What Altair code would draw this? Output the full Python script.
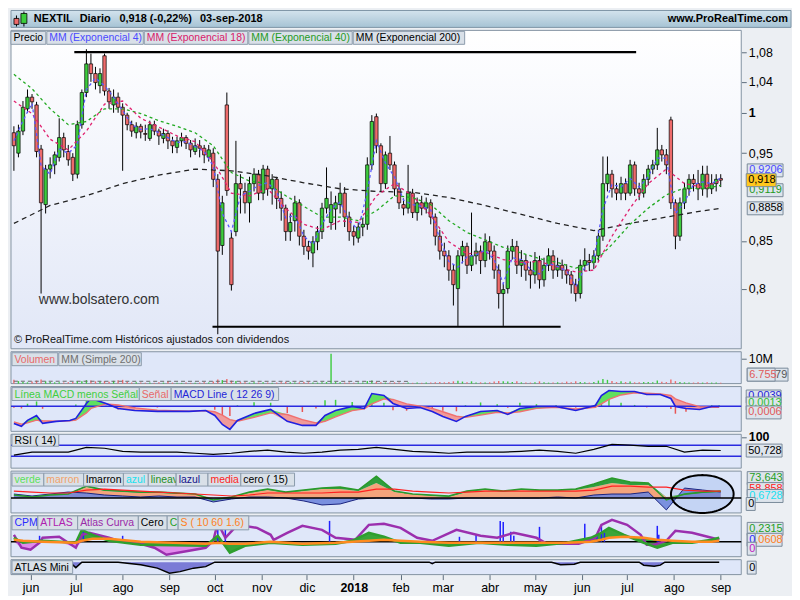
import math
import numpy as np
import pandas as pd
import altair as alt

# ---------------- data ----------------
START = "2017-05-21"   # first candle; one candle every 3 calendar days (day = 3*i)

open_ = [0.975, 0.950, 0.977, 1.005, 1.020, 1.010, 0.955, 0.890, 0.931, 0.936,
         0.945, 0.969, 0.952, 0.945, 0.925, 0.985, 1.026, 1.064, 1.051, 1.035,
         1.075, 1.028, 1.010, 1.020, 1.007, 0.997, 0.985, 0.975, 0.983, 0.974,
         0.968, 0.985, 0.977, 0.968, 0.974, 0.965, 0.957, 0.965, 0.969, 0.962,
         0.952, 0.959, 0.956, 0.945, 0.950, 0.919, 0.845, 1.010, 0.853, 0.860,
         0.914, 0.905, 0.892, 0.914, 0.925, 0.903, 0.931, 0.908, 0.919, 0.897,
         0.886, 0.860, 0.872, 0.892, 0.855, 0.844, 0.837, 0.849, 0.860, 0.886,
         0.870, 0.885, 0.890, 0.903, 0.876, 0.860, 0.853, 0.865, 0.868, 0.936,
         0.995, 0.959, 0.914, 0.950, 0.936, 0.908, 0.890, 0.886, 0.903, 0.881,
         0.892, 0.886, 0.892, 0.876, 0.855, 0.839, 0.834, 0.819, 0.800, 0.834,
         0.844, 0.824, 0.834, 0.839, 0.829, 0.849, 0.839, 0.819, 0.795, 0.800,
         0.839, 0.844, 0.824, 0.829, 0.819, 0.814, 0.829, 0.809, 0.824, 0.834,
         0.819, 0.824, 0.819, 0.814, 0.804, 0.795, 0.824, 0.829, 0.827, 0.834,
         0.855, 0.914, 0.925, 0.908, 0.903, 0.914, 0.903, 0.936, 0.908, 0.903,
         0.919, 0.931, 0.936, 0.954, 0.948, 0.991, 0.892, 0.855, 0.892, 0.908,
         0.919, 0.914, 0.908, 0.925, 0.908, 0.914, 0.920]
close = [0.959, 0.977, 1.007, 1.020, 1.014, 0.952, 0.892, 0.931, 0.936, 0.948,
         0.969, 0.954, 0.942, 0.925, 0.985, 1.026, 1.064, 1.051, 1.039, 1.051,
         1.028, 1.014, 1.020, 1.007, 0.997, 0.985, 0.977, 0.983, 0.976, 0.973,
         0.985, 0.977, 0.971, 0.974, 0.965, 0.959, 0.965, 0.969, 0.962, 0.954,
         0.959, 0.956, 0.948, 0.954, 0.919, 0.839, 0.892, 0.906, 0.804, 0.914,
         0.908, 0.892, 0.914, 0.925, 0.903, 0.931, 0.908, 0.919, 0.897, 0.886,
         0.860, 0.870, 0.892, 0.855, 0.844, 0.839, 0.849, 0.860, 0.886, 0.897,
         0.890, 0.892, 0.903, 0.876, 0.860, 0.855, 0.865, 0.868, 0.936, 0.989,
         0.959, 0.914, 0.948, 0.936, 0.908, 0.892, 0.886, 0.903, 0.881, 0.892,
         0.886, 0.892, 0.876, 0.855, 0.839, 0.834, 0.819, 0.804, 0.834, 0.844,
         0.824, 0.834, 0.839, 0.829, 0.849, 0.839, 0.819, 0.795, 0.799, 0.839,
         0.844, 0.824, 0.829, 0.819, 0.814, 0.829, 0.809, 0.824, 0.834, 0.819,
         0.824, 0.819, 0.814, 0.804, 0.795, 0.824, 0.829, 0.827, 0.834, 0.855,
         0.914, 0.925, 0.908, 0.903, 0.914, 0.903, 0.936, 0.908, 0.903, 0.919,
         0.931, 0.936, 0.954, 0.948, 0.936, 0.892, 0.855, 0.892, 0.908, 0.919,
         0.914, 0.908, 0.925, 0.908, 0.914, 0.919, 0.918]
high = [0.983, 0.985, 1.015, 1.030, 1.024, 1.014, 0.960, 0.936, 0.945, 0.952,
        0.993, 0.975, 0.960, 0.950, 0.990, 1.030, 1.084, 1.078, 1.060, 1.058,
        1.078, 1.032, 1.030, 1.026, 1.012, 1.000, 0.990, 0.988, 0.986, 0.985,
        0.990, 0.990, 0.980, 0.980, 0.978, 0.970, 0.970, 0.975, 0.972, 0.966,
        0.968, 0.966, 0.960, 0.960, 0.956, 0.925, 0.900, 1.026, 0.860, 0.965,
        0.925, 0.915, 0.922, 0.932, 0.930, 0.936, 0.935, 0.925, 0.922, 0.905,
        0.890, 0.880, 0.900, 0.896, 0.862, 0.850, 0.855, 0.866, 0.892, 0.933,
        0.905, 0.900, 0.915, 0.910, 0.882, 0.866, 0.870, 0.875, 0.945, 0.997,
        0.999, 0.962, 0.952, 0.971, 0.940, 0.915, 0.897, 0.936, 0.908, 0.898,
        0.900, 0.898, 0.896, 0.880, 0.862, 0.848, 0.840, 0.825, 0.840, 0.850,
        0.848, 0.881, 0.848, 0.845, 0.858, 0.855, 0.845, 0.825, 0.805, 0.845,
        0.852, 0.850, 0.840, 0.835, 0.828, 0.838, 0.834, 0.832, 0.842, 0.840,
        0.832, 0.830, 0.825, 0.818, 0.810, 0.830, 0.842, 0.836, 0.840, 0.862,
        0.946, 0.946, 0.930, 0.915, 0.922, 0.920, 0.942, 0.940, 0.915, 0.925,
        0.936, 0.942, 0.981, 0.960, 0.955, 0.995, 0.896, 0.898, 0.915, 0.925,
        0.925, 0.930, 0.935, 0.935, 0.925, 0.925, 0.925]
low = [0.929, 0.945, 0.972, 1.000, 1.005, 0.945, 0.795, 0.880, 0.920, 0.925,
       0.940, 0.945, 0.935, 0.917, 0.920, 0.980, 1.020, 1.040, 1.030, 1.025,
       1.022, 1.005, 1.000, 1.000, 0.929, 0.978, 0.970, 0.968, 0.968, 0.965,
       0.965, 0.972, 0.960, 0.962, 0.955, 0.950, 0.950, 0.958, 0.955, 0.945,
       0.948, 0.945, 0.938, 0.940, 0.910, 0.755, 0.835, 0.900, 0.798, 0.855,
       0.880, 0.880, 0.870, 0.905, 0.895, 0.895, 0.900, 0.890, 0.885, 0.872,
       0.850, 0.850, 0.860, 0.845, 0.835, 0.830, 0.822, 0.840, 0.852, 0.880,
       0.862, 0.862, 0.880, 0.865, 0.850, 0.845, 0.848, 0.855, 0.862, 0.930,
       0.950, 0.905, 0.908, 0.930, 0.900, 0.885, 0.878, 0.880, 0.875, 0.872,
       0.878, 0.880, 0.868, 0.845, 0.830, 0.822, 0.808, 0.783, 0.763, 0.826,
       0.815, 0.818, 0.825, 0.815, 0.822, 0.830, 0.810, 0.780, 0.763, 0.795,
       0.830, 0.815, 0.812, 0.808, 0.800, 0.805, 0.800, 0.802, 0.818, 0.810,
       0.812, 0.810, 0.805, 0.795, 0.787, 0.790, 0.818, 0.818, 0.820, 0.828,
       0.850, 0.905, 0.898, 0.895, 0.895, 0.895, 0.900, 0.900, 0.895, 0.898,
       0.912, 0.925, 0.930, 0.940, 0.925, 0.885, 0.841, 0.850, 0.885, 0.900,
       0.905, 0.895, 0.900, 0.898, 0.902, 0.905, 0.910]
volume_m = [1.5, 1.0, 0.6, 0.5, 0.8, 1.2, 1.6, 0.9, 0.6, 0.5,
            0.5, 0.4, 0.5, 0.6, 1.0, 0.9, 1.4, 1.2, 0.9, 0.8,
            1.0, 0.7, 1.1, 1.3, 1.5, 0.6, 0.4, 0.5, 0.4, 0.3,
            0.4, 0.3, 0.5, 0.4, 1.0, 0.4, 0.3, 0.3, 0.4, 0.3,
            0.3, 0.4, 0.5, 0.4, 0.8, 1.6, 1.4, 1.8, 1.2, 1.0,
            0.6, 0.5, 0.4, 0.5, 0.4, 0.5, 0.4, 0.3, 0.4, 0.5,
            0.6, 0.5, 0.4, 0.5, 0.6, 0.5, 0.4, 0.4, 0.5, 0.6,
            12.0, 0.6, 0.5, 0.4, 0.4, 0.3, 0.4, 0.4, 1.0, 1.2,
            0.6, 0.5, 0.4, 0.4, 0.5, 0.4, 0.3, 0.4, 0.3, 0.4,
            0.3, 0.4, 0.4, 0.5, 0.6, 0.5, 0.6, 0.9, 1.1, 0.8,
            0.5, 0.9, 0.4, 0.5, 0.4, 0.5, 0.8, 1.0, 0.9, 0.8,
            0.6, 0.9, 0.5, 0.4, 0.4, 0.5, 0.9, 0.5, 0.4, 0.4,
            0.5, 0.4, 0.8, 0.5, 0.9, 0.6, 0.5, 0.4, 0.6, 1.2,
            1.8, 1.5, 1.0, 0.6, 0.9, 0.6, 0.8, 0.5, 0.5, 0.6,
            0.6, 0.5, 1.2, 0.7, 0.6, 1.6, 1.0, 0.6, 0.5, 0.4,
            0.4, 0.5, 0.4, 0.5, 0.4, 0.4, 0.3]
vol_mm_days = [0, 90, 180, 262]
vol_mm = [0.95, 0.92, 0.92, 0.90]

# moving averages
ema4 = [0.965, 0.990, 1.012, 0.935, 0.925, 0.955, 0.950, 0.960, 1.030, 1.045,
        1.035, 1.020, 1.003, 0.985, 0.979, 0.980, 0.975, 0.969, 0.963, 0.964,
        0.958, 0.952, 0.935, 0.880, 0.860, 0.900, 0.905, 0.912, 0.915, 0.905,
        0.875, 0.878, 0.855, 0.846, 0.868, 0.885, 0.893, 0.872, 0.862, 0.905,
        0.965, 0.938, 0.922, 0.895, 0.890, 0.888, 0.884, 0.852, 0.828, 0.822,
        0.833, 0.835, 0.840, 0.830, 0.805, 0.832, 0.830, 0.820, 0.815, 0.826,
        0.823, 0.818, 0.802, 0.822, 0.831, 0.885, 0.913, 0.910, 0.920, 0.910,
        0.922, 0.944, 0.944, 0.880, 0.893, 0.913, 0.916, 0.914, 0.9206]   # every 6 days
ema18 = [1.015, 0.999, 0.967, 0.954, 0.977, 1.011, 1.015, 0.993, 0.982, 0.971,
         0.964, 0.940, 0.903, 0.900, 0.908, 0.886, 0.868, 0.862, 0.872, 0.870,
         0.900, 0.914, 0.900, 0.878, 0.849, 0.836, 0.838, 0.830, 0.827, 0.828,
         0.822, 0.817, 0.819, 0.855, 0.886, 0.914, 0.931, 0.914, 0.910, 0.917]  # every 12 days
ema40 = [1.050, 1.031, 1.005, 0.985, 0.989, 1.005, 1.005, 0.999, 0.990, 0.983,
         0.975, 0.959, 0.927, 0.917, 0.914, 0.900, 0.888, 0.876, 0.876, 0.872,
         0.883, 0.900, 0.898, 0.890, 0.872, 0.859, 0.851, 0.843, 0.837, 0.831,
         0.827, 0.821, 0.827, 0.846, 0.868, 0.886, 0.901, 0.909, 0.908, 0.9119]
ema200_days = [0, 24, 48, 72, 96, 120, 144, 168, 192, 216, 240, 264, 288, 312, 336,
               360, 384, 408, 432, 456, 468]
ema200 = [0.869, 0.889, 0.900, 0.914, 0.924, 0.931, 0.929, 0.923, 0.915, 0.908,
          0.905, 0.904, 0.898, 0.889, 0.879, 0.869, 0.861, 0.869, 0.876, 0.883, 0.8858]
support_from = [40, 131.5]
support_to = [412, 362]
support_level = [1.08, 0.7622]

# MACD
macd_days = [0, 5, 9, 15, 19, 28, 37, 41, 48, 51, 61, 69, 80, 95, 116, 127, 133, 138, 143, 148,
             159, 170, 181, 191, 200, 206, 213, 224, 232, 237, 245, 251, 260, 269, 277, 284, 293,
             299, 309, 320, 327, 335, 346, 359, 372, 385, 389, 394, 402, 411, 419, 428, 435, 438,
             445, 454, 462, 467]
macd = [-0.0308, -0.0361, -0.0255, -0.0166, -0.0308, -0.0272, -0.0255, -0.0219, 0.0048, 0.0137,
        0.0048, -0.0041, -0.0077, -0.0094, -0.0094, -0.0077, -0.0166, -0.0326, -0.0415, -0.0255,
        -0.0130, -0.0059, -0.0272, -0.0344, -0.0344, -0.0166, -0.0077, -0.0005, -0.0041, 0.0226,
        0.0190, 0.0048, -0.0041, -0.0023, -0.0094, -0.0183, -0.0272, -0.0183, -0.0094, -0.0077,
        -0.0148, -0.0041, -0.0005, -0.0005, -0.0077, 0.0012, 0.0190, 0.0279, 0.0262, 0.0262,
        0.0208, 0.0208, 0.0137, -0.0005, -0.0041, -0.0059, -0.0005, -0.0005]
signal = [-0.028, -0.032, -0.030, -0.025, -0.026, -0.027, -0.026, -0.025, -0.012, -0.004,
          0.004, 0.002, -0.003, -0.007, -0.009, -0.008, -0.010, -0.016, -0.024, -0.027,
          -0.020, -0.012, -0.015, -0.024, -0.030, -0.027, -0.019, -0.008, -0.005, 0.004,
          0.013, 0.012, 0.004, 0.000, -0.004, -0.010, -0.018, -0.020, -0.016, -0.011,
          -0.012, -0.010, -0.004, -0.002, -0.005, -0.002, 0.004, 0.012, 0.020, 0.024,
          0.023, 0.022, 0.019, 0.013, 0.006, -0.001, -0.002, -0.002]

# RSI and the "verde" panel, every 12 days
rsi = [34, 45, 45, 45, 62, 59, 48, 45, 45, 45, 41, 37, 41, 48, 52, 45, 41, 45, 52, 55,
       62, 55, 48, 45, 41, 45, 45, 45, 48, 52, 48, 41, 55, 73, 70, 66, 66, 45, 52, 51]
verde = [9, 3, 9, 12, 36, 24, 21, 18, 18, 15, 12, -6, 3, 18, 27, 18, 24, 30, 33, 24,
         66, 21, 12, 9, 6, 21, 27, 21, 27, 24, 24, 27, 42, 60, 48, 45, -6, 12, 18, 21]
marron = [9, 3, 9, 12, 33, 21, 18, 15, 15, 12, 12, 0, 3, 15, 24, 15, 21, 27, 27, 21,
          45, 18, 12, 6, 3, 18, 24, 18, 24, 21, 21, 24, 33, 45, 39, 39, 3, 9, 15, 18]
lazul = [12, 6, 12, 18, 15, 9, 6, 3, 6, 3, 3, -12, -3, 3, 3, 0, -9, -21, -18, -3,
         0, 0, 0, -3, -3, 0, 0, 0, 0, 0, 3, 0, 9, 12, 12, 18, -36, 30, 24, 18]
media = [21, 18, 15, 15, 24, 27, 24, 21, 18, 15, 12, 9, 6, 9, 15, 15, 15, 15, 18, 18,
         27, 27, 21, 18, 15, 18, 21, 21, 21, 21, 21, 21, 24, 36, 36, 33, 33, 24, 21, 21]

# CPM / ATLAS panel
atlas_days = [0, 5, 11, 17, 19, 30, 41, 45, 50, 63, 69, 84, 93, 101, 116, 127, 132, 135, 140, 148,
              161, 170, 172, 181, 191, 204, 213, 226, 235, 245, 256, 267, 277, 293, 309, 320, 331,
              346, 353, 374, 385, 389, 396, 406, 415, 419, 424, 432, 438, 449, 462, 467]
atlas = [0.07, -0.06, -0.08, -0.01, 0.04, 0.05, -0.06, 0.07, 0.09, 0.04, 0.01, -0.02, -0.06,
         -0.13, -0.09, -0.06, 0.01, 0.19, 0.04, 0.17, 0.14, 0.07, 0.02, 0.09, 0.16, 0.12, 0.04,
         0.02, 0.17, 0.18, 0.14, 0.04, 0.01, 0.12, 0.06, 0.04, 0.09, 0.04, -0.02, -0.02, 0.04,
         0.17, 0.22, 0.17, 0.07, -0.03, -0.03, 0.01, 0.11, 0.09, 0.04, 0.02]
cs_days = [0, 6, 19, 41, 45, 52, 63, 84, 127, 135, 143, 153, 170, 191, 213, 224, 235, 245, 256,
           269, 288, 308, 327, 346, 366, 382, 389, 394, 404, 417, 426, 436, 449, 462, 467]
c_line = [0.04, -0.01, 0.01, -0.01, 0.12, 0.07, 0.01, -0.03, -0.04, 0.06, -0.11, -0.04, -0.01,
          -0.03, -0.02, 0.01, 0.09, 0.05, -0.01, -0.01, -0.04, -0.01, -0.03, -0.04, -0.01, 0.04,
          0.09, 0.14, 0.07, -0.01, -0.06, -0.01, -0.01, 0.02, 0.04]
s_line = [0.02, 0.01, 0.00, -0.01, 0.01, 0.03, 0.03, 0.00, -0.02, -0.01, -0.02, -0.02, 0.00,
          -0.02, -0.01, 0.00, 0.01, 0.02, 0.01, 0.00, -0.01, -0.01, -0.01, -0.01, -0.01, 0.00,
          0.02, 0.04, 0.05, 0.04, 0.02, 0.01, 0.00, 0.00, 0.01]
cpm_days = [17, 46, 72, 135, 140, 209, 295, 306, 322, 324, 329, 331, 348, 378, 386, 389, 391, 426, 427]
cpm = [0.06, 0.11, 0.06, 0.21, 0.12, 0.21, 0.05, 0.07, 0.21, 0.20, 0.10, 0.06, 0.15, 0.18,
       0.08, 0.17, 0.09, 0.16, 0.07]
mini_days = [0, 37, 41, 45, 69, 84, 95, 103, 110, 119, 127, 133, 275, 277, 279, 356, 362, 371,
             375, 414, 417, 424, 428, 431, 467]
mini = [0, 0, -5.5, 0, 0, -2.5, -6, -11, -9.5, -6, -4.5, 0, 0, -1.5, 0, 0, -2.5, -2, 0, 0,
        -3, -4, -3, 0, 0]

# ---------------- helpers ----------------
def ms(days):
    base = pd.Timestamp(START)
    return [int((base + pd.Timedelta(days=float(d))).value // 1_000_000) for d in days]

W = 734
FONT = "Liberation Sans"
BORDER = "#8493a2"
SUBBG = "#dfe7f9"
BOXFILL = "#d9e0e8"
BOXLINE = "#8b9bab"
UP, DOWN = "#3dcc3d", "#ee6b6b"
XLO, XHI = -1.93, 481.6
PX_PER_DAY = W / (XHI - XLO)

XSC = alt.Scale(type="utc", domain=ms([XLO, XHI]), nice=False, padding=0)
XTICKS = [int(m.value // 1_000_000) for m in pd.date_range("2017-06-01", "2018-09-01", freq="MS")]
MES = "['ene','feb','mar','abr','may','jun','jul','ago','sep','oct','nov','dic']"
XA = alt.Axis(values=XTICKS, title=None, grid=False, domain=False, tickSize=5,
              tickColor="#5e6e7d", labelFontSize=12.5, labelColor="#000", labelFont=FONT,
              labelPadding=2, labelFlush=False, labelOverlap=False,
              labelExpr="utcmonth(datum.value) == 0 ? utcFormat(datum.value, '%Y') : " + MES + "[utcmonth(datum.value)]",
              labelFontWeight={"condition": {"test": "utcmonth(datum.value) == 0", "value": "bold"}, "value": "normal"})

ONE = pd.DataFrame({"a": [0]})


def X(axis=None, f="x"):
    return alt.X(f, type="temporal", scale=XSC, axis=axis)


def rect(x0, x1, y0, y1, **kw):
    return alt.Chart(ONE).mark_rect(**kw).encode(
        x=alt.value(x0), x2=alt.value(x1), y=alt.value(y0), y2=alt.value(y1))


def label(x, y, text, size=10.5, color="#000", weight="normal", align="left"):
    return alt.Chart(ONE).mark_text(text=text, align=align, baseline="middle", font=FONT,
                                    fontSize=size, color=color, fontWeight=weight).encode(
        x=alt.value(x), y=alt.value(y))


def legend_row(items, y0=1, y1=14):
    out = []
    for text, color, x0, x1 in items:
        out.append(rect(x0, x1, y0, y1, fill=BOXFILL, stroke=BOXLINE, strokeWidth=1))
        out.append(label(x0 + 2.5, (y0 + y1) / 2 + 0.5, text, color=color))
    return out


class Panel:
    """y mapping of a panel (used only to size the value boxes in pixels)."""
    def __init__(self, lo, hi, h, log=False):
        self.lo, self.hi, self.h, self.log = lo, hi, h, log

    def px(self, v):
        if self.log:
            return (math.log(self.hi) - math.log(v)) / (math.log(self.hi) - math.log(self.lo)) * self.h
        return (self.hi - v) / (self.hi - self.lo) * self.h

    def val(self, p):
        if self.log:
            return math.exp(math.log(self.hi) - p / self.h * (math.log(self.hi) - math.log(self.lo)))
        return self.hi - p / self.h * (self.hi - self.lo)


def vbox(Yf, pan, value, text, color, x0, x1, fill="#dde4ec", h=13, tx=None):
    p = pan.px(value)
    d = pd.DataFrame({"y": [value], "y1": [pan.val(p - h / 2)], "y2": [pan.val(p + h / 2)]})
    b = alt.Chart(d).mark_rect(fill=fill, stroke="#7a8a9a", strokeWidth=1).encode(
        x=alt.value(W + x0), x2=alt.value(W + x1), y=Yf("y1"), y2="y2")
    t = alt.Chart(d).mark_text(text=text, align="left", baseline="middle", fontSize=11,
                               font=FONT, color=color).encode(
        x=alt.value(W + (tx if tx is not None else x0 + 2)), y=Yf("y"))
    return [b, t]


GRAD_MAIN = {"gradient": "linear", "x1": 0, "y1": 0, "x2": 0, "y2": 1,
             "stops": [{"offset": 0, "color": "#ffffff"}, {"offset": 1, "color": "#e1e7f7"}]}
GRAD_HEAD = {"gradient": "linear", "x1": 0, "y1": 0, "x2": 0, "y2": 1,
             "stops": [{"offset": 0, "color": "#d3e3ed"}, {"offset": 1, "color": "#a6c3d4"}]}

# ---------------- header ----------------
HH = 17
header = alt.layer(
    rect(0, 784, 0, HH, fill=GRAD_HEAD, stroke="#7f95a6", strokeWidth=1),
    rect(5, 6, 5, 16, fill="#000"),
    rect(3, 8, 8, 14, fill=DOWN, stroke="#000", strokeWidth=0.8),
    rect(12.5, 13.5, 1, 16, fill="#000"),
    rect(10, 16, 3, 13, fill=UP, stroke="#000", strokeWidth=0.8),
    label(23, 9, "NEXTIL", size=11, weight="bold"),
    label(69, 9, "Diario", size=11, weight="bold"),
    label(109, 9, "0,918 (-0,22%)", size=11, weight="bold"),
    label(190, 9, "03-sep-2018", size=11, weight="bold"),
    label(781, 9, "www.ProRealTime.com", size=11, weight="bold", align="right"),
).properties(width=W, height=HH)

# ---------------- main price panel ----------------
HM = 320
PM = Panel(0.7412, 1.1102, HM, log=True)
YS = alt.Scale(type="log", domain=[PM.lo, PM.hi], nice=False)
YA = alt.Axis(orient="right", values=[0.8, 0.85, 0.95, 1, 1.04, 1.08], title=None, grid=False,
              domain=False, tickSize=5, tickColor="#5e6e7d", labelFontSize=12.5, labelColor="#000",
              labelFont=FONT, labelPadding=2,
              labelExpr="replace(toString(datum.value), '.', ',')",
              labelFontWeight={"condition": {"test": "datum.value == 1", "value": "bold"}, "value": "normal"})


def Ym(f):
    return alt.Y(f, type="quantitative", scale=YS, axis=YA)


cdays = [3 * i for i in range(len(close))]
cdf = pd.DataFrame({"x": ms(cdays), "o": open_, "h": high, "l": low, "c": close})
cdf["col"] = [UP if c >= o else DOWN for o, c in zip(open_, close)]


def ma_line(days, vals, color, dash, width=1.3):
    d = pd.DataFrame({"x": ms(days), "y": vals})
    return alt.Chart(d).mark_line(color=color, strokeDash=dash, strokeWidth=width).encode(x=X(), y=Ym("y"))


sup = pd.DataFrame({"x": ms(support_from), "x2": ms(support_to), "y": support_level})

main_layers = [
    rect(0, W, 0, HM, fill=GRAD_MAIN, stroke=BORDER, strokeWidth=1),
    alt.Chart(cdf).mark_rule(color="#000", strokeWidth=1).encode(x=X(), y=Ym("l"), y2="h"),
    alt.Chart(cdf).mark_bar(size=3.4, stroke="#000", strokeWidth=0.7).encode(
        x=X(), y=Ym("o"), y2="c", fill=alt.Fill("col:N", scale=None)),
    ma_line(ema200_days, ema200, "#222222", [5, 4]),
    ma_line([12 * k for k in range(len(ema40))], ema40, "#22aa22", [3, 3]),
    ma_line([12 * k for k in range(len(ema18))], ema18, "#e0206e", [3, 3]),
    ma_line([6 * k for k in range(len(ema4))], ema4, "#5a5aff", [3, 3]),
    alt.Chart(sup).mark_rule(color="#000", strokeWidth=2.2).encode(x=X(), x2="x2", y=Ym("y")),
    label(28, 271, "www.bolsatero.com", size=14, color="#333333"),
    label(3, 311, "© ProRealTime.com Históricos ajustados con dividendos", size=11, color="#111111"),
]
main_layers += legend_row([("Precio", "#000000", 0, 35), ("MM (Exponencial 4)", "#4a4aff", 36, 133),
                           ("MM (Exponencial 18)", "#d81b6a", 134, 238),
                           ("MM (Exponencial 40)", "#1f9a1f", 239, 343),
                           ("MM (Exponencial 200)", "#000000", 344, 456)])
main_layers += vbox(Ym, PM, 0.9295, "0,9206", "#4a4aff", 6, 42)
main_layers += vbox(Ym, PM, 0.9064, "0,9119", "#1f9a1f", 6, 42)
main_layers += vbox(Ym, PM, 0.918, "0,918", "#000000", 5, 35, fill="#ffc81e")
main_layers += vbox(Ym, PM, 0.8858, "0,8858", "#000000", 6, 42)
main = alt.layer(*main_layers).properties(width=W, height=HM)

# ---------------- volume ----------------
HV = 32
PV = Panel(0, 12.8, HV)
YSV = alt.Scale(domain=[PV.lo, PV.hi], nice=False, zero=False)
YAV = alt.Axis(orient="right", values=[10], labelExpr="datum.value + 'M'", title=None, grid=False,
               domain=False, tickSize=5, tickColor="#5e6e7d", labelFontSize=12.5, labelColor="#000",
               labelFont=FONT, labelPadding=2)


def Yv(f):
    return alt.Y(f, type="quantitative", scale=YSV, axis=YAV)


vdf = pd.DataFrame({"x": ms(cdays), "y": volume_m, "zero": 0.0, "col": cdf["col"]})
vmm = pd.DataFrame({"x": ms(vol_mm_days), "y": vol_mm})
vol_layers = [
    rect(0, W, 0, HV, fill=SUBBG, stroke=BORDER, strokeWidth=1),
    alt.Chart(vdf).mark_bar(size=1.4).encode(x=X(), y=Yv("y"), y2="zero", fill=alt.Fill("col:N", scale=None)),
    alt.Chart(vmm).mark_line(color="#6a6a6a", strokeDash=[4, 3], strokeWidth=1).encode(x=X(), y=Yv("y")),
]
vol_layers += legend_row([("Volumen", "#e86a6a", 1, 47), ("MM (Simple 200)", "#6f6f6f", 48, 131)])
vol_layers += vbox(Yv, PV, 3.6, "79", "#555555", 6, 47, tx=34)
vol_layers += vbox(Yv, PV, 3.6, "6.755", "#e05a5a", 6, 34)
vol = alt.layer(*vol_layers).properties(width=W, height=HV)

# ---------------- MACD ----------------
HMC = 45
PC = Panel(-0.045, 0.035, HMC)
YSM = alt.Scale(domain=[PC.lo, PC.hi], nice=False, zero=False)


def Yc(f):
    return alt.Y(f, type="quantitative", scale=YSM, axis=None)


mdf = pd.DataFrame({"x": ms(macd_days), "m": macd, "s": signal})
mdf["hist"] = mdf["m"] - mdf["s"]
mdf["top"] = mdf[["m", "s"]].max(axis=1)
mdf["bot"] = mdf[["m", "s"]].min(axis=1)
mdf["zero"] = 0.0
mdf["hcol"] = np.where(mdf["hist"] >= 0, "#3fcf3f", "#e85555")
zero_df = pd.DataFrame({"y": [0.0]})
macd_layers = [
    rect(0, W, 0, HMC, fill=SUBBG, stroke=BORDER, strokeWidth=1),
    alt.Chart(mdf).mark_bar(size=1.5).encode(x=X(), y=Yc("hist"), y2="zero", fill=alt.Fill("hcol:N", scale=None)),
    alt.Chart(mdf).mark_area(color="#5fe05f", opacity=1).encode(x=X(), y=Yc("top"), y2="s"),
    alt.Chart(mdf).mark_area(color="#f09a9a", opacity=1).encode(x=X(), y=Yc("s"), y2="bot"),
    alt.Chart(zero_df).mark_rule(color="#2a2ae0", strokeWidth=1.5).encode(y=Yc("y"), x=alt.value(0), x2=alt.value(W)),
    alt.Chart(mdf).mark_line(color="#f07070", strokeWidth=1.4).encode(x=X(), y=Yc("s")),
    alt.Chart(mdf).mark_line(color="#2020e0", strokeWidth=1.6).encode(x=X(), y=Yc("m")),
]
macd_layers += legend_row([("Línea MACD menos Señal", "#3fcf3f", 1, 129), ("Señal", "#e86a6a", 129, 161),
                           ("MACD Line ( 12 26 9)", "#2424d8", 161, 269)])
macd_layers += vbox(Yc, PC, 0.0173, "0,0039", "#2424d8", 5, 40)
macd_layers += vbox(Yc, PC, 0.0048, "0,0013", "#2fbf2f", 5, 40)
macd_layers += vbox(Yc, PC, -0.0112, "0,0006", "#e05a5a", 5, 40)
macd_panel = alt.layer(*macd_layers).properties(width=W, height=HMC)

# ---------------- RSI ----------------
HR = 34
PR = Panel(-12.5, 109, HR)
YSR = alt.Scale(domain=[PR.lo, PR.hi], nice=False, zero=False)
YAR = alt.Axis(orient="right", values=[100], title=None, grid=False, domain=False, tickSize=5,
               tickColor="#5e6e7d", labelFontSize=12.5, labelColor="#000", labelFont=FONT,
               labelPadding=2, labelFontWeight="bold")


def Yr(f):
    return alt.Y(f, type="quantitative", scale=YSR, axis=YAR)


g12 = ms([12 * k for k in range(40)])
rdf = pd.DataFrame({"x": g12, "y": rsi})
lvl = pd.DataFrame({"y": [70, 30]})
rsi_layers = [
    rect(0, W, 0, HR, fill=SUBBG, stroke=BORDER, strokeWidth=1),
    alt.Chart(lvl).mark_rule(color="#2a2ae0", strokeWidth=1.5).encode(y=Yr("y"), x=alt.value(0), x2=alt.value(W)),
    alt.Chart(rdf).mark_line(color="#000", strokeWidth=1.2).encode(x=X(), y=Yr("y")),
]
rsi_layers += legend_row([("RSI ( 14)", "#000000", 1, 48)], 0, 12)
rsi_layers += vbox(Yr, PR, 50.7, "50,728", "#000000", 5, 41)
rsi_panel = alt.layer(*rsi_layers).properties(width=W, height=HR)

# ---------------- verde / marron ----------------
HVD = 42
PD_ = Panel(-45, 81, HVD)
YSD = alt.Scale(domain=[PD_.lo, PD_.hi], nice=False, zero=False)


def Yd(f):
    return alt.Y(f, type="quantitative", scale=YSD, axis=None)


ddf = pd.DataFrame({"x": g12, "verde": verde, "marron": marron, "lazul": lazul, "media": media})
ddf["zero"] = 0.0
ddf["gtop"] = ddf[["verde", "marron"]].max(axis=1)

# hand-drawn ellipse annotation (center at the last weeks, 63 x 38 px)
ecx, ecy = 455.8, 12.0
ea = 31.5 / PX_PER_DAY
eb = 19.0 * (PD_.hi - PD_.lo) / HVD
ts_ = [math.pi * k / 48 for k in range(49)]
edf = pd.DataFrame({"x": ms([ecx + ea * math.cos(t) for t in ts_]),
                    "yu": [ecy + eb * math.sin(t) for t in ts_],
                    "yl": [ecy - eb * math.sin(t) for t in ts_]})
verde_layers = [
    rect(0, W, 0, HVD, fill=SUBBG, stroke=BORDER, strokeWidth=1),
    alt.Chart(edf).mark_area(color="#c4d4f4", opacity=1).encode(x=X(), y=Yd("yu"), y2="yl"),
    alt.Chart(ddf).mark_area(color="#f4a47c", opacity=1).encode(x=X(), y=Yd("marron"), y2="zero"),
    alt.Chart(ddf).mark_area(color="#6f86dc", opacity=0.9).encode(x=X(), y=Yd("lazul"), y2="zero"),
    alt.Chart(ddf).mark_line(color="#1a237e", strokeWidth=1).encode(x=X(), y=Yd("lazul")),
    alt.Chart(ddf).mark_area(color="#2f9e3f", opacity=1).encode(x=X(), y=Yd("gtop"), y2="marron"),
    alt.Chart(ddf).mark_line(color="#2a9a2a", strokeWidth=1.5).encode(x=X(), y=Yd("verde")),
    alt.Chart(ddf).mark_line(color="#ff2020", strokeWidth=1.2).encode(x=X(), y=Yd("media")),
    alt.Chart(zero_df).mark_rule(color="#000", strokeWidth=1.5).encode(y=Yd("y"), x=alt.value(0), x2=alt.value(W)),
    alt.Chart(edf).mark_line(color="#000", strokeWidth=2).encode(x=X(), y=Yd("yu")),
    alt.Chart(edf).mark_line(color="#000", strokeWidth=2).encode(x=X(), y=Yd("yl")),
]
verde_layers += legend_row([("verde", "#5ce05c", 1, 33), ("marron", "#f2a36b", 33, 73),
                            ("lmarron", "#000000", 73, 113), ("azul", "#19e0f0", 113, 138),
                            ("lineav", "#1f8f1f", 138, 166), ("lazul", "#14148c", 166, 198),
                            ("media", "#ff1e1e", 198, 231), ("cero ( 15)", "#000000", 231, 285)], 2, 15)
verde_layers += vbox(Yd, PD_, 60, "73,643", "#1f9f1f", 6, 42)
verde_layers += vbox(Yd, PD_, 27, "58,858", "#ff2020", 6, 42)
verde_layers += vbox(Yd, PD_, 6, "0,6728", "#18e0f0", 6, 42)
verde_layers += vbox(Yd, PD_, -18, "0", "#000000", 5, 14)
verde_panel = alt.layer(*verde_layers).properties(width=W, height=HVD)

# ---------------- CPM / ATLAS ----------------
HC = 41
PP = Panel(-0.15, 0.26, HC)
YSC = alt.Scale(domain=[PP.lo, PP.hi], nice=False, zero=False)


def Yp(f):
    return alt.Y(f, type="quantitative", scale=YSC, axis=None)


adf = pd.DataFrame({"x": ms(atlas_days), "a": atlas})
adf["neg"] = adf["a"].clip(upper=0)
adf["zero"] = 0.0
csdf = pd.DataFrame({"x": ms(cs_days), "c": c_line, "s": s_line})
spk = pd.DataFrame({"x": ms(cpm_days), "v": cpm, "zero": 0.0})
cpm_layers = [
    rect(0, W, 0, HC, fill=SUBBG, stroke=BORDER, strokeWidth=1),
    alt.Chart(adf).mark_area(color="#e23ee2", opacity=0.55).encode(x=X(), y=Yp("neg"), y2="zero"),
    alt.Chart(csdf).mark_area(color="#3aa53a", opacity=1).encode(x=X(), y=Yp("c"), y2="s"),
    alt.Chart(zero_df).mark_rule(color="#000", strokeWidth=1.5).encode(y=Yp("y"), x=alt.value(0), x2=alt.value(W)),
    alt.Chart(spk).mark_rule(color="#2020ff", strokeWidth=1.5).encode(x=X(), y=Yp("v"), y2="zero"),
    alt.Chart(adf).mark_line(color="#9b2fae", strokeWidth=2.5).encode(x=X(), y=Yp("a")),
    alt.Chart(csdf).mark_line(color="#2f9f2f", strokeWidth=2.5).encode(x=X(), y=Yp("c")),
    alt.Chart(csdf).mark_line(color="#ff8a1f", strokeWidth=2.5).encode(x=X(), y=Yp("s")),
]
cpm_layers += legend_row([("CPM", "#2a2aff", 1, 27), ("ATLAS", "#b020b0", 27, 67),
                          ("Atlas Curva", "#9a2aa8", 67, 128), ("Cero", "#000000", 128, 157),
                          ("C", "#1f9f1f", 157, 168), ("S ( 10 60 1.6)", "#ff7f1e", 168, 239)], 0, 14)
cpm_layers += vbox(Yp, PP, 0.13, "0,2315", "#1f9f1f", 6, 42)
cpm_layers += vbox(Yp, PP, 0.02, "0,0608", "#ff7f1e", 6, 41)
cpm_layers += vbox(Yp, PP, 0.02, "0", "#2a2aff", 6, 14)
cpm_layers += vbox(Yp, PP, -0.07, "0", "#c020c0", 6, 15)
cpm_panel = alt.layer(*cpm_layers).properties(width=W, height=HC)

# ---------------- ATLAS Mini (carries the time axis) ----------------
HN = 15
PN = Panel(-12.5, 2.5, HN)
YSN = alt.Scale(domain=[PN.lo, PN.hi], nice=False, zero=False)


def Yn(f):
    return alt.Y(f, type="quantitative", scale=YSN, axis=None)


ndf = pd.DataFrame({"x": ms(mini_days), "y": mini, "zero": 0.0})
mini_layers = [
    rect(0, W, 0, HN, fill=SUBBG, stroke=BORDER, strokeWidth=1),
    alt.Chart(ndf).mark_area(color="#7b7bd6", opacity=1).encode(x=X(XA), y=Yn("y"), y2="zero"),
    alt.Chart(ndf).mark_line(color="#000", strokeWidth=1.5).encode(x=X(XA), y=Yn("y")),
]
mini_layers += legend_row([("ATLAS Mini", "#000000", 1, 62)], 1, 14)
mini_layers += vbox(Yn, PN, -5.5, "0", "#000000", 6, 15)
mini_panel = alt.layer(*mini_layers).properties(width=W, height=HN)

chart = alt.vconcat(header, main, vol, macd_panel, rsi_panel, verde_panel, cpm_panel, mini_panel,
                    spacing=3, bounds="flush").resolve_scale(x="independent", y="independent").properties(
    padding=0, background="#eceff3").configure(font=FONT).configure_view(stroke=None)

chart.save("out.html", embed_options={"renderer": "svg", "actions": False})
